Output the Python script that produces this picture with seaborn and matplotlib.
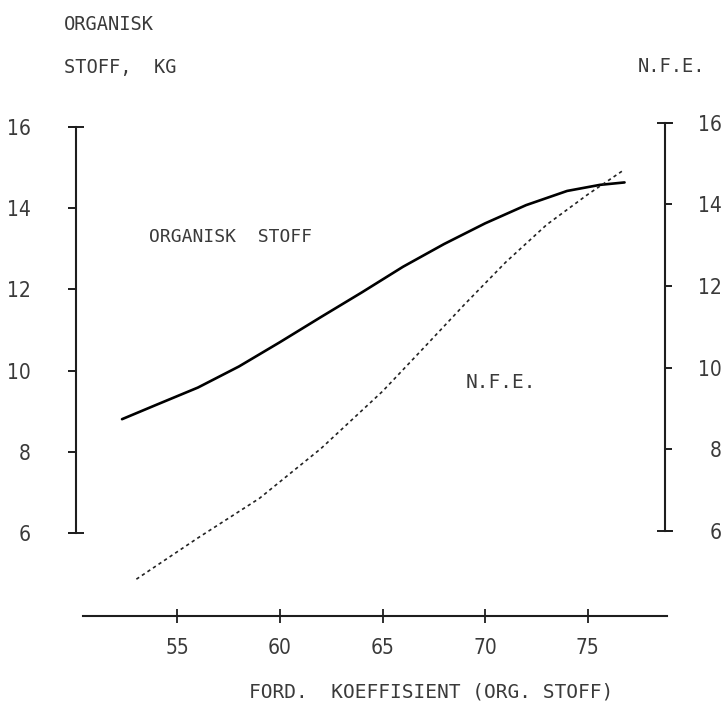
import numpy as np
import pandas as pd
import matplotlib
matplotlib.use("Agg")
import matplotlib.pyplot as plt
import seaborn as sns
from matplotlib import font_manager

# ---- data ----
org_x = [52.3, 54.0, 56.0, 58.0, 60.0, 62.0, 64.0, 66.0, 68.0, 70.0, 72.0, 74.0, 75.6, 76.8]
org_y = [8.80, 9.16, 9.58, 10.10, 10.70, 11.32, 11.93, 12.56, 13.12, 13.63, 14.08, 14.43, 14.58, 14.64]

nfe_x = [53.0, 56.0, 59.0, 62.0, 65.0, 67.0, 69.0, 71.0, 73.0, 75.0, 76.7]
nfe_y = [4.82, 5.83, 6.80, 8.02, 9.42, 10.48, 11.55, 12.58, 13.50, 14.24, 14.82]

x_ticks = [55, 60, 65, 70, 75]
y_ticks = [6, 8, 10, 12, 14, 16]

org_df = pd.DataFrame({"x": org_x, "y": org_y})
nfe_df = pd.DataFrame({"x": nfe_x, "y": nfe_y})

sns.set_theme(style="white")
fonts = font_manager.fontManager.ttflist
names = {f.name for f in fonts}
if "Liberation Sans Narrow" in names:
    fam, stretch, fs = "Liberation Sans Narrow", "normal", 17
elif any(f.name == "DejaVu Sans" and f.stretch in ("condensed", "semi-condensed") for f in fonts):
    fam, stretch, fs = "DejaVu Sans", "condensed", 15
else:
    fam, stretch, fs = "DejaVu Sans", "normal", 14
plt.rcParams["font.family"] = [fam, "DejaVu Sans"]
plt.rcParams["font.stretch"] = stretch
MONO = ["DejaVu Sans Mono", "Liberation Mono", "DejaVu Sans"]

TXT = "#3a3a3a"
INK = "#1e1e1e"
W, H = 724, 707
fig = plt.figure(figsize=(W / 100, H / 100), dpi=100)
fig.patch.set_facecolor("white")

def fx(px):
    return px / W

def fy(py):
    return 1 - py / H

ax = fig.add_axes([fx(76), fy(616), fx(667) - fx(76), fy(120) - fy(616)])
ax2 = ax.twinx()

sns.lineplot(data=org_df, x="x", y="y", ax=ax, color="black", lw=1.9,
             sort=False, estimator=None)
sns.lineplot(data=nfe_df, x="x", y="y", ax=ax2, color="#222222", lw=1.2,
             sort=False, estimator=None, dashes=False)
ax2.lines[0].set_dashes((2.0, 2.0))

ax.set_xlim(50.056, 78.87)
ax.set_ylim(3.945, 16.18)
ax2.set_ylim(3.918, 16.066)

for a in (ax, ax2):
    a.set_facecolor("none")
    a.set_xlabel("")
    a.set_ylabel("")
    a.grid(False)
    for s in a.spines.values():
        s.set_visible(False)
        s.set_color(INK)
        s.set_linewidth(1.5)

# left axis
ax.spines["left"].set_visible(True)
ax.spines["left"].set_bounds(6, 16)
ax.set_yticks(y_ticks)
ax.set_yticks([6, 16], minor=True)
ax.yaxis.remove_overlapping_locs = False
ax.tick_params(axis="y", which="major", direction="out", length=5.8, width=1.4,
               color=INK, pad=27, labelsize=fs, labelcolor=TXT, left=True, right=False)
ax.tick_params(axis="y", which="minor", direction="inout", length=11, width=1.4,
               color=INK, left=True, right=False)

# bottom axis
ax.spines["bottom"].set_visible(True)
ax.spines["bottom"].set_bounds(50.38, 78.87)
ax.set_xticks(x_ticks)
ax.set_xticklabels([str(v) for v in x_ticks])
ax.tick_params(axis="x", which="major", direction="inout", length=9.4, width=1.3,
               color=INK, pad=11, labelsize=fs, labelcolor=TXT, bottom=True, top=False)

# right axis
ax2.spines["right"].set_visible(True)
ax2.spines["right"].set_position(("axes", 0.9966))
ax2.spines["right"].set_bounds(6, 16)
ax2.set_yticks(y_ticks)
ax2.set_yticks([6, 16], minor=True)
ax2.yaxis.remove_overlapping_locs = False
ax2.tick_params(axis="y", which="major", direction="out", length=5, width=1.4,
                color=INK, pad=36, labelsize=fs, labelcolor=TXT, right=True, left=False)
ax2.tick_params(axis="y", which="minor", direction="inout", length=11, width=1.4,
                color=INK, right=True, left=False)
for t in ax2.get_yticklabels():
    t.set_ha("right")

# texts
fig.text(fx(64), fy(25), "ORGANISK", ha="left", va="center", fontsize=13.5, color=TXT,
         family=MONO)
fig.text(fx(64), fy(67), "STOFF,  KG", ha="left", va="center", fontsize=13.5, color=TXT,
         family=MONO)
fig.text(fx(705), fy(67), "N.F.E.", ha="right", va="center", fontsize=13.5, color=TXT,
         family=MONO)
fig.text(fx(149), fy(237), "ORGANISK  STOFF", ha="left", va="center", fontsize=13, color=TXT,
         family=MONO)
fig.text(fx(466), fy(382), "N.F.E.", ha="left", va="center", fontsize=14, color=TXT,
         family=MONO)
fig.text(fx(431), fy(692), "FORD.  KOEFFISIENT (ORG. STOFF)", ha="center", va="center",
         fontsize=14, color=TXT, family=MONO)

fig.savefig("out.png", dpi=100, facecolor="white")
